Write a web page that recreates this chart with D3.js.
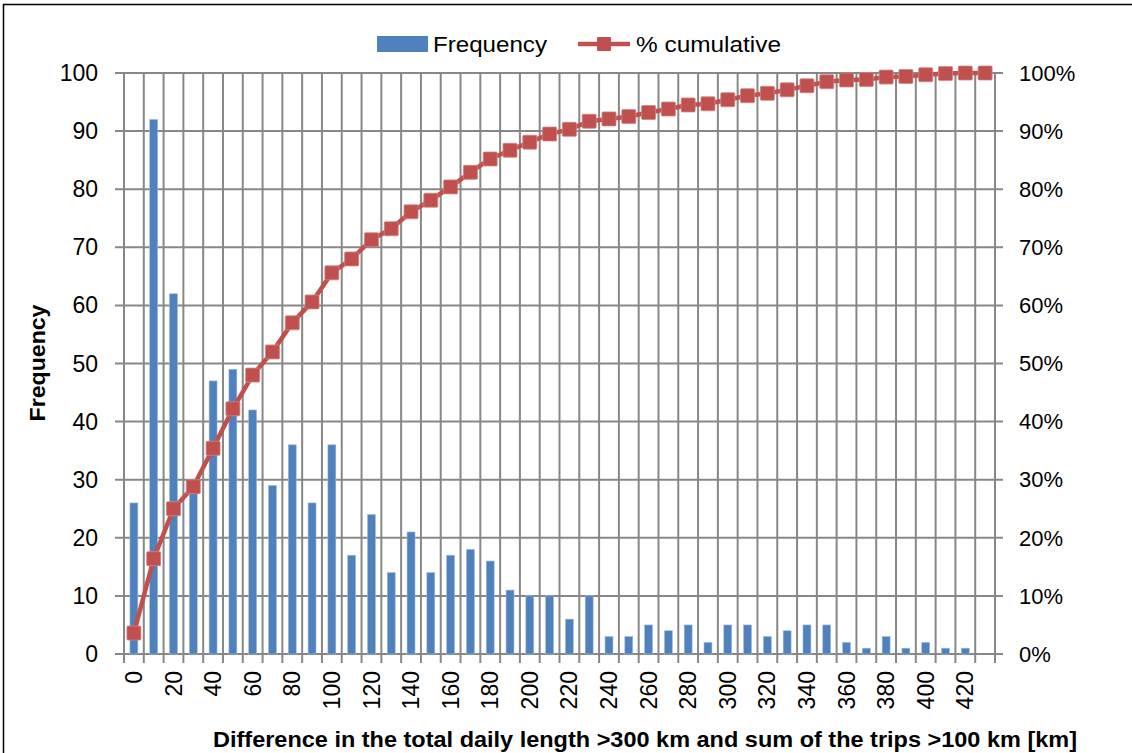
<!DOCTYPE html>
<html><head><meta charset="utf-8">
<script src="https://cdn.jsdelivr.net/npm/d3@7"></script>
<style>
body{margin:0;background:#fff;}
svg text{font-family:"Liberation Sans",Arial,sans-serif;fill:#000;}
</style></head><body>
<svg id="c" width="1132" height="753"></svg>
<script>
const categories = [0,10,20,30,40,50,60,70,80,90,100,110,120,130,140,150,160,170,180,190,200,210,220,230,240,250,260,270,280,290,300,310,320,330,340,350,360,370,380,390,400,410,420,430];
const frequency = [26,92,62,28,47,49,42,29,36,26,36,17,24,14,21,14,17,18,16,11,10,10,6,10,3,3,5,4,5,2,5,5,3,4,5,5,2,1,3,1,2,1,1,0];
const cumulative = [3.6,16.4,25.0,28.8,35.4,42.2,48.0,52.0,57.0,60.6,65.6,68.0,71.3,73.2,76.1,78.1,80.4,82.9,85.2,86.7,88.1,89.5,90.3,91.7,92.1,92.5,93.2,93.8,94.5,94.7,95.4,96.1,96.5,97.1,97.8,98.5,98.8,98.9,99.3,99.4,99.7,99.9,100,100];
const xTickLabels = [0,20,40,60,80,100,120,140,160,180,200,220,240,260,280,300,320,340,360,380,400,420];
const yTicks = [0,10,20,30,40,50,60,70,80,90,100];
const yRightTicks = [0,10,20,30,40,50,60,70,80,90,100];

const svg = d3.select("#c");
const L=124, R=995, T=73, B=654;
const blue="#4F81BD", red="#C0504D", grid="#878787";

svg.append("rect").attr("x",3.5).attr("y",4.5).attr("width",1140).attr("height",760)
  .attr("fill","none").attr("stroke","#000").attr("stroke-width",1.5);

const x = d3.scaleBand().domain(categories).range([L,R]).padding(0);
const y = d3.scaleLinear().domain([0,100]).range([B,T]);
const y2 = d3.scaleLinear().domain([0,100]).range([B,T]);

const g = svg.append("g");
g.selectAll("line.h").data(yTicks).join("line")
  .attr("x1",L-9).attr("x2",R+8).attr("y1",d=>y(d)).attr("y2",d=>y(d))
  .attr("stroke",grid).attr("stroke-width",2);
const bounds = categories.map(c=>x(c)).concat([R]);
g.selectAll("line.v").data(bounds).join("line")
  .attr("x1",d=>d).attr("x2",d=>d).attr("y1",T).attr("y2",B+9)
  .attr("stroke",grid).attr("stroke-width",2);

const bw = x.bandwidth()*0.4;
svg.append("g").selectAll("rect").data(categories.map((c,i)=>({c,v:frequency[i]}))).join("rect")
  .attr("x",d=>x(d.c)+x.bandwidth()/2-bw/2).attr("width",bw)
  .attr("y",d=>y(d.v)).attr("height",d=>B-y(d.v))
  .attr("fill",blue).attr("stroke","#9DB9DE").attr("stroke-width",0.6);

const pts = categories.map((c,i)=>[x(c)+x.bandwidth()/2, y2(cumulative[i])]);
svg.append("path").attr("d",d3.line()(pts)).attr("fill","none")
  .attr("stroke",red).attr("stroke-width",4.5).attr("stroke-linejoin","round");
svg.append("g").selectAll("rect").data(pts).join("rect")
  .attr("x",d=>d[0]-7).attr("y",d=>d[1]-7).attr("width",14).attr("height",14)
  .attr("fill",red).attr("stroke","#D08583").attr("stroke-width",0.8).attr("rx",1);

const fs=23;
svg.append("g").selectAll("text").data(yTicks).join("text")
  .attr("x",98).attr("y",d=>y(d)).attr("dy","0.35em").attr("text-anchor","end")
  .attr("font-size",fs).text(d=>d);
svg.append("g").selectAll("text").data(yRightTicks).join("text")
  .attr("x",1019).attr("y",d=>y2(d)).attr("dy","0.35em").attr("text-anchor","start")
  .attr("font-size",22).text(d=>d+"%");
svg.append("g").selectAll("text").data(xTickLabels).join("text")
  .attr("transform",d=>`translate(${x(d)+x.bandwidth()/2},671) rotate(-90)`)
  .attr("dy","0.35em").attr("text-anchor","end").attr("font-size",fs).text(d=>d);

svg.append("text").attr("transform","translate(37,363) rotate(-90)").attr("dy","0.35em")
  .attr("text-anchor","middle").attr("font-weight","bold").attr("font-size",22)
  .attr("textLength",117).attr("lengthAdjust","spacingAndGlyphs").text("Frequency");
svg.append("text").attr("x",645).attr("y",739).attr("dy","0.35em")
  .attr("text-anchor","middle").attr("font-weight","bold").attr("font-size",22)
  .attr("textLength",864).attr("lengthAdjust","spacingAndGlyphs")
  .text("Difference in the total daily length >300 km and sum of the trips >100 km [km]");

const lg = svg.append("g");
lg.append("rect").attr("x",377).attr("y",36).attr("width",51).attr("height",16).attr("fill",blue);
lg.append("text").attr("x",433).attr("y",44).attr("dy","0.35em").attr("font-size",22)
  .attr("textLength",114).attr("lengthAdjust","spacingAndGlyphs").text("Frequency");
lg.append("line").attr("x1",578).attr("x2",630).attr("y1",44).attr("y2",44).attr("stroke",red).attr("stroke-width",4.5);
lg.append("rect").attr("x",597).attr("y",37).attr("width",14).attr("height",14).attr("fill",red).attr("rx",1);
lg.append("text").attr("x",636).attr("y",44).attr("dy","0.35em").attr("font-size",22)
  .attr("textLength",145).attr("lengthAdjust","spacingAndGlyphs").text("% cumulative");
</script></body></html>
